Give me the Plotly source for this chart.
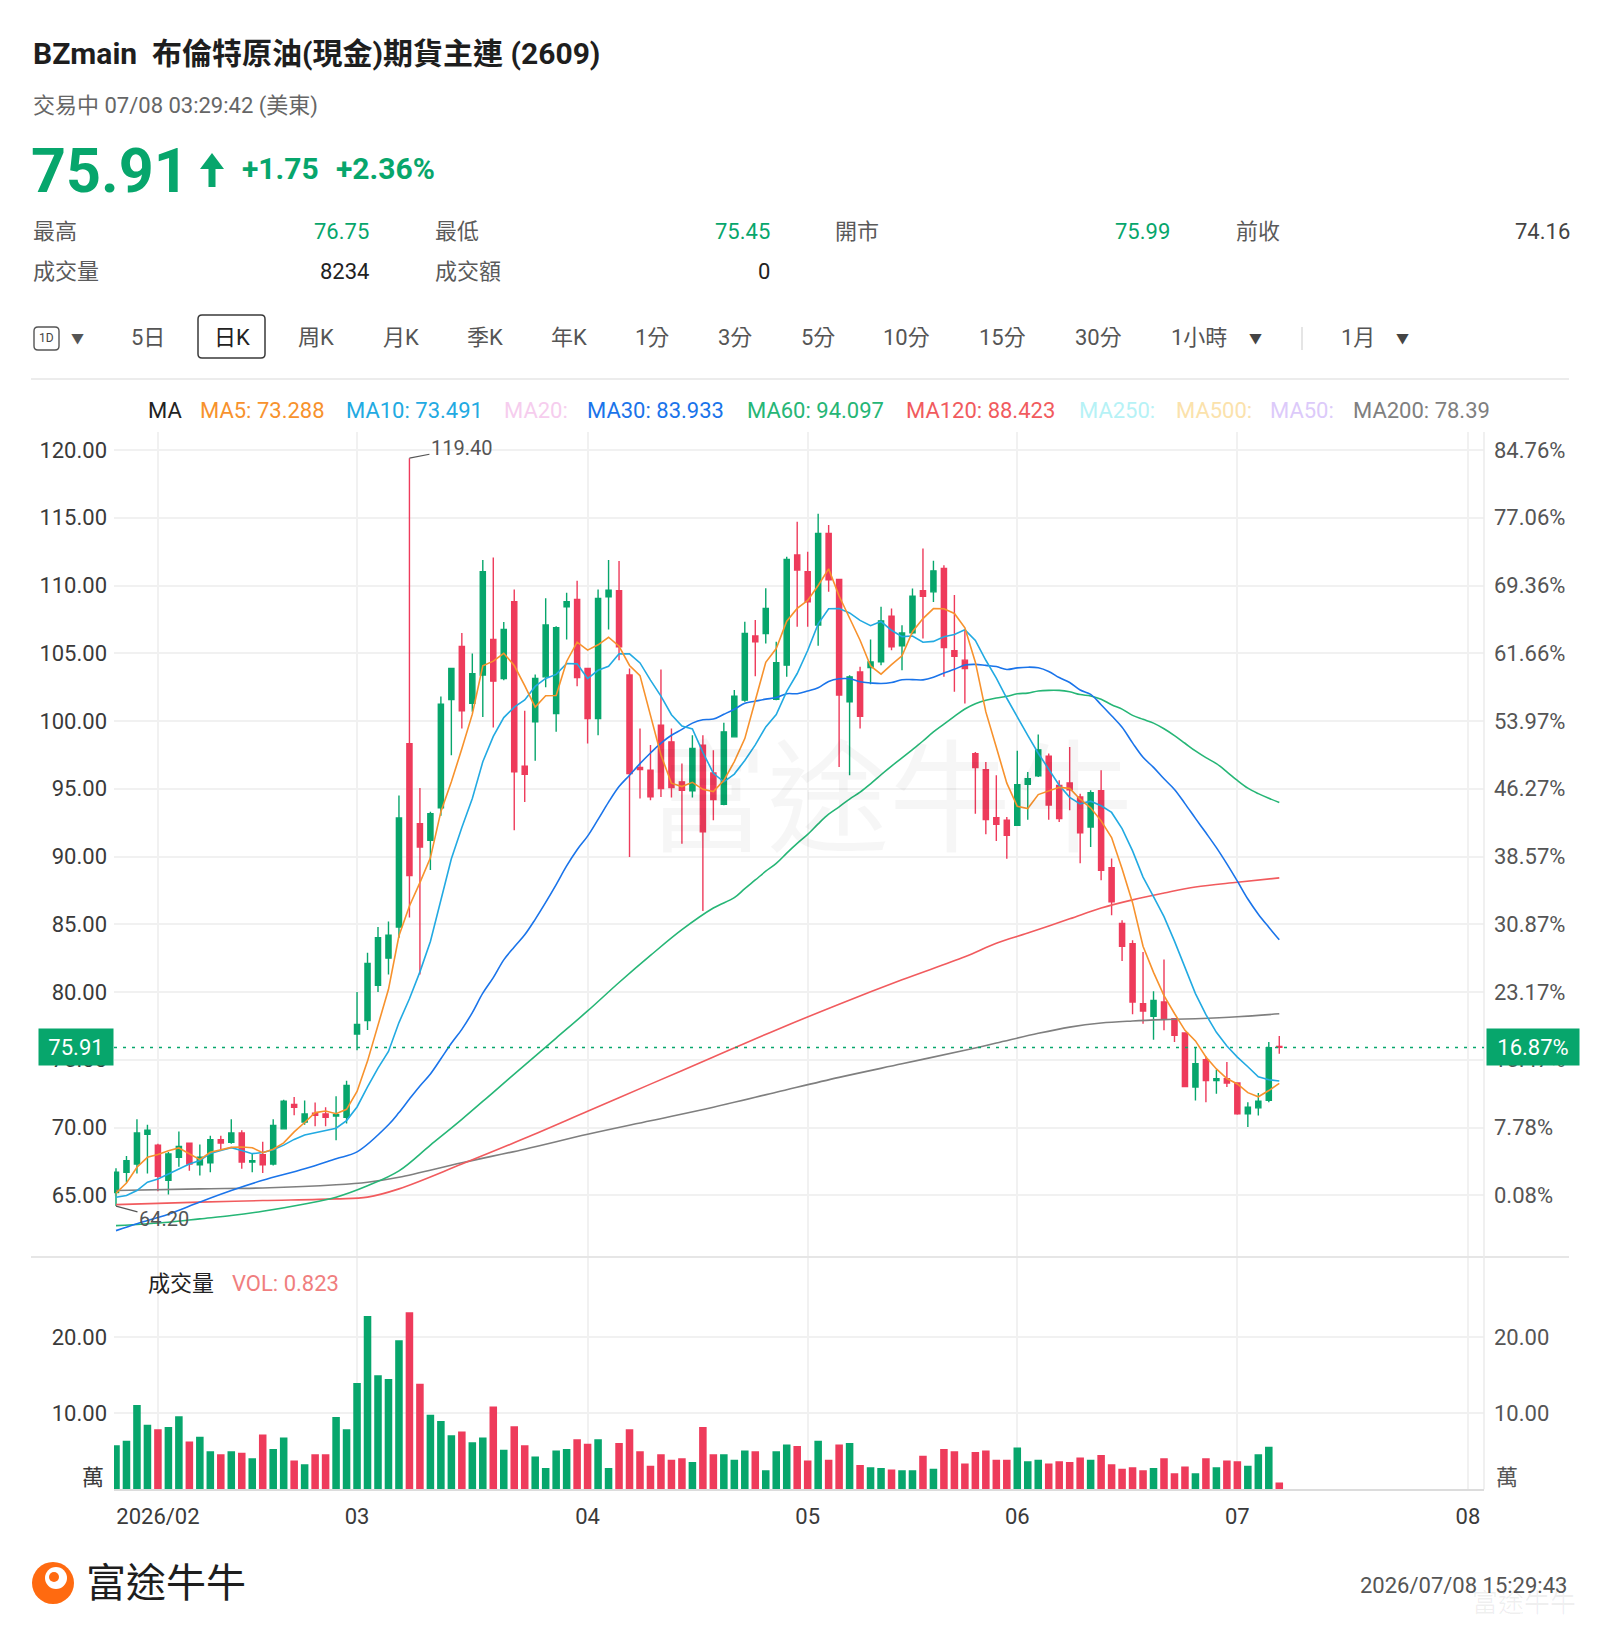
import plotly.graph_objects as go
import pandas as pd

W, H = 1600, 1635
FONT = "Roboto, 'Noto Sans CJK TC', sans-serif"
GREEN = '#07a66c'
RED = '#ee3b5b'

# ---------------- data ----------------
month_idx = [4, 23, 45, 66, 86, 107, 129]
month_lbl = ['2026/02', '03', '04', '05', '06', '07', '08']

price_ticks = [120, 115, 110, 105, 100, 95, 90, 85, 80, 75, 70, 65]
price_tick_text = ['120.00', '115.00', '110.00', '105.00', '100.00', '95.00', '90.00',
                   '85.00', '80.00', '75.00', '70.00', '65.00']
pct_tick_text = ['84.76%', '77.06%', '69.36%', '61.66%', '53.97%', '46.27%', '38.57%',
                 '30.87%', '23.17%', '15.47%', '7.78%', '0.08%']
vol_ticks = [10, 20]
vol_tick_text = ['10.00', '20.00']

opens = [65.2, 66.7, 67.3, 69.5, 68.7, 66.1, 67.8, 68.85, 67.25, 67.4,
         69.1, 68.9, 69.6, 67.45, 68.0, 67.3, 69.9, 71.7, 70.4, 71.05,
         71.0, 70.85, 70.75, 76.9, 77.9, 80.5, 82.5, 84.8, 98.33, 92.42,
         91.2, 93.6, 101.58, 105.5, 101.3, 103.39, 106.02, 103.14, 108.8, 96.66,
         99.94, 103.26, 100.55, 108.43, 108.97, 103.88, 100.18, 109.17, 109.61, 103.39,
         96.57, 96.37, 99.69, 98.46, 95.51, 94.84, 98.22, 96.17, 93.86, 98.83,
         101.54, 106.27, 106.46, 101.61, 104.12, 112.25, 111.02, 107.08, 113.85, 110.45,
         101.41, 103.62, 103.94, 104.36, 107.74, 105.55, 106.5, 109.61, 109.53, 111.26,
         105.18, 104.49, 97.59, 96.41, 92.87, 92.67, 92.3, 95.33, 95.95, 97.4,
         95.25, 95.43, 94.4, 92.18, 94.86, 89.18, 85.05, 83.57, 79.14, 78.2,
         79.26, 78.03, 76.97, 72.98, 75.0, 73.47, 73.6, 73.28, 71.01, 71.45,
         72.0, 75.99]
highs = [67.0, 67.9, 70.6, 70.2, 68.8, 68.2, 69.7, 68.9, 68.75, 69.4,
         69.4, 70.6, 69.8, 68.05, 68.95, 70.6, 72.05, 72.25, 72.0, 71.85,
         71.5, 72.3, 73.45, 80.0, 82.9, 84.8, 85.2, 94.5, 119.4, 95.06,
         93.3, 101.8, 103.9, 106.5, 104.99, 111.88, 112.07, 107.3, 109.71, 100.75,
         103.44, 109.05, 107.0, 109.47, 110.35, 103.9, 109.71, 111.88, 111.8, 103.88,
         99.45, 98.22, 103.8, 99.45, 96.86, 98.95, 98.95, 97.85, 99.87, 102.28,
         107.32, 107.45, 109.79, 105.85, 112.13, 114.71, 112.5, 115.3, 114.46, 110.45,
         103.38, 104.0, 106.01, 108.43, 108.3, 107.07, 109.78, 112.73, 111.82, 111.5,
         109.29, 106.7, 97.72, 96.98, 95.99, 92.92, 97.8, 96.24, 99.0, 97.6,
         95.63, 98.08, 94.64, 94.89, 96.37, 89.85, 85.29, 83.81, 82.95, 80.05,
         82.39, 78.03, 76.97, 75.89, 75.25, 74.26, 74.83, 73.3, 71.87, 72.54,
         76.31, 76.75]
lows = [64.2, 65.95, 66.6, 66.6, 65.3, 65.05, 67.1, 66.8, 66.45, 66.7,
        68.4, 68.8, 66.95, 66.7, 66.65, 67.2, 69.9, 70.9, 70.2, 70.1,
        70.1, 69.05, 70.3, 75.7, 77.2, 80.0, 81.3, 84.0, 85.5, 81.3,
        89.0, 93.0, 97.47, 99.45, 100.68, 100.3, 99.52, 103.0, 91.94, 94.03,
        97.06, 102.5, 99.2, 106.02, 102.57, 98.34, 98.95, 106.76, 104.49, 89.97,
        94.28, 94.15, 94.4, 94.35, 90.95, 94.35, 85.98, 92.68, 93.78, 98.78,
        101.42, 103.31, 105.72, 101.54, 103.26, 106.95, 106.95, 105.55, 109.54, 96.6,
        95.99, 99.44, 102.71, 104.12, 105.22, 103.75, 106.41, 106.09, 108.79, 103.26,
        102.15, 101.29, 93.16, 91.64, 91.14, 89.84, 92.3, 92.72, 95.87, 92.72,
        92.55, 93.41, 89.5, 90.71, 88.25, 85.66, 82.29, 78.35, 77.66, 76.48,
        77.17, 76.31, 72.98, 71.99, 71.87, 72.49, 72.98, 70.95, 70.03, 70.89,
        71.87, 75.45]
closes = [66.7, 67.55, 69.6, 69.8, 66.4, 68.05, 68.6, 67.3, 67.8, 69.1,
          68.85, 69.6, 67.45, 67.55, 67.25, 70.15, 71.95, 71.5, 71.0, 70.9,
          70.75, 70.95, 73.1, 77.6, 82.1, 84.0, 84.2, 92.85, 88.6, 90.7,
          93.16, 101.24, 103.87, 100.75, 103.5, 111.02, 102.94, 106.76, 96.25, 96.07,
          103.14, 107.08, 106.88, 108.8, 103.21, 100.18, 109.05, 109.66, 105.48, 96.12,
          96.42, 94.4, 95.02, 95.09, 94.89, 97.97, 91.82, 94.2, 99.2, 101.83,
          106.46, 105.85, 108.31, 104.3, 111.93, 111.14, 108.8, 113.85, 110.42, 101.91,
          103.26, 100.35, 104.36, 107.39, 105.47, 106.5, 109.21, 109.21, 111.08, 105.42,
          104.78, 103.87, 96.56, 92.72, 92.37, 91.56, 95.3, 95.75, 97.87, 93.8,
          92.8, 94.93, 91.74, 94.7, 88.98, 86.65, 83.37, 79.26, 78.6, 79.38,
          78.03, 76.8, 73.03, 74.71, 73.47, 73.6, 73.28, 71.01, 71.5, 71.95,
          75.89, 75.91]
volumes = [5.8, 6.4, 11.1, 8.5, 7.9, 8.2, 9.6, 6.3, 6.9, 5.0,
           4.6, 5.0, 4.8, 4.1, 7.2, 5.3, 6.8, 3.8, 3.3, 4.6,
           4.6, 9.5, 7.9, 14.0, 22.8, 15.0, 14.5, 19.6, 23.3, 13.9,
           9.8, 9.0, 7.1, 7.6, 6.2, 6.8, 10.9, 5.2, 8.3, 5.8,
           4.3, 2.8, 5.1, 5.3, 6.6, 6.0, 6.6, 2.8, 6.1, 7.9,
           5.0, 3.1, 4.6, 3.9, 4.1, 3.6, 8.2, 4.6, 4.6, 3.9,
           5.1, 5.0, 2.5, 5.0, 5.9, 5.7, 3.8, 6.4, 3.9, 5.9,
           6.1, 3.2, 2.9, 2.8, 2.6, 2.5, 2.5, 4.4, 2.7, 5.3,
           5.0, 3.4, 4.9, 5.1, 3.9, 3.9, 5.5, 3.7, 3.9, 3.4,
           3.7, 3.6, 4.2, 3.9, 4.5, 3.3, 2.7, 2.9, 2.5, 2.8,
           4.1, 2.1, 3.0, 2.1, 4.1, 2.9, 3.8, 3.7, 3.1, 4.6,
           5.6, 0.9]

ma5_head = [65.15, 65.9, 67.07, 67.8]
ma10_head = [64.85, 64.98, 65.35, 65.96, 66.2, 66.58, 66.95, 67.3, 67.56]
ma30_idx = [0, 2, 5, 8, 11, 14, 18, 21, 23, 26, 27, 28]
ma30_val = [62.39, 62.9, 63.6, 64.5, 65.35, 66.1, 66.95, 67.7, 68.2, 70.2, 71.1, 72.1]
ma60_idx = [0, 5, 8, 11, 14, 18, 21, 24, 27, 30, 33, 36, 39, 42, 45, 48, 51, 54, 57]
ma60_val = [62.76, 63.01, 63.26, 63.5, 63.82, 64.36, 64.86, 65.7, 66.8, 68.7, 70.6, 72.6,
            74.6, 76.6, 78.6, 80.7, 82.7, 84.6, 86.2]
ma120_idx = [0, 8, 14, 21, 24, 27, 33, 39, 45, 51, 57, 63, 69, 75, 81, 84, 87, 91, 94, 97,
             100, 103, 107, 111]
ma120_val = [64.31, 64.49, 64.61, 64.73, 64.86, 65.47, 67.3, 69.2, 71.2, 73.2, 75.2, 77.2,
             79.1, 80.9, 82.6, 83.6, 84.35, 85.4, 86.2, 86.8, 87.3, 87.75, 88.1, 88.42]
ma200_idx = [0, 8, 14, 21, 24, 27, 33, 39, 45, 51, 57, 63, 69, 75, 81, 84, 88, 91, 94, 97,
             100, 103, 107, 111]
ma200_val = [65.35, 65.47, 65.54, 65.77, 65.96, 66.33, 67.4, 68.4, 69.5, 70.5, 71.5, 72.6,
             73.7, 74.7, 75.7, 76.23, 76.95, 77.41, 77.71, 77.86, 77.96, 78.03, 78.17, 78.39]

last_price = 75.91

# ---------------- helpers ----------------
def px(x):
    return x / W


def py(y):
    return 1 - y / H


annotations = []
shapes = []


def text(x, y, s, size=22, color='#333', xanchor='left', bold=False, family=FONT):
    annotations.append(dict(x=px(x), y=py(y), xref='paper', yref='paper',
                            text=('<b>%s</b>' % s) if bold else s, showarrow=False,
                            xanchor=xanchor, yanchor='middle',
                            font=dict(size=size, color=color, family=family)))


def rrect(x0, y0, x1, y1, r):
    P = lambda x, y: '%f,%f' % (px(x), py(y))
    return ('M %s L %s Q %s %s L %s Q %s %s L %s Q %s %s L %s Q %s %s Z' % (
        P(x0 + r, y0), P(x1 - r, y0), P(x1, y0), P(x1, y0 + r), P(x1, y1 - r), P(x1, y1),
        P(x1 - r, y1), P(x0 + r, y1), P(x0, y1), P(x0, y1 - r), P(x0, y0 + r), P(x0, y0),
        P(x0 + r, y0)))


def hline(x0, x1, y, color, width):
    shapes.append(dict(type='line', xref='paper', yref='paper', x0=px(x0), x1=px(x1),
                       y0=py(y), y1=py(y), line=dict(color=color, width=width)))


def vline(x, y0, y1, color, width):
    shapes.append(dict(type='line', xref='paper', yref='paper', x0=px(x), x1=px(x),
                       y0=py(y0), y1=py(y1), line=dict(color=color, width=width)))


# ---------------- derived series ----------------
n = len(closes)
xs = list(range(n))
c = pd.Series(closes)
ma5 = ma5_head + list(c.rolling(5).mean()[len(ma5_head):])
ma10 = ma10_head + list(c.rolling(10).mean()[len(ma10_head):])
r30 = c.rolling(30).mean()
ma30_x = ma30_idx + list(range(29, n))
ma30_y = ma30_val + list(r30[29:])
r60 = c.rolling(60).mean()
ma60_x = ma60_idx + list(range(59, n))
ma60_y = ma60_val + list(r60[59:])
vol_colors = [GREEN if cl >= op else RED for op, cl in zip(opens, closes)]

# ---------------- figure ----------------
fig = go.Figure()
fig.add_trace(go.Candlestick(
    x=xs, open=opens, high=highs, low=lows, close=closes,
    increasing=dict(line=dict(color=GREEN, width=1.4), fillcolor=GREEN),
    decreasing=dict(line=dict(color=RED, width=1.4), fillcolor=RED),
    whiskerwidth=0, xaxis='x', yaxis='y', showlegend=False, hoverinfo='skip'))

ma_styles = [
    (ma200_idx, ma200_val, '#7f7f7f', 'spline'),
    (ma120_idx, ma120_val, '#f15b5e', 'spline'),
    (ma60_x, ma60_y, '#26b676', 'spline'),
    (ma30_x, ma30_y, '#1a74ea', 'spline'),
    (xs, ma10, '#22aae2', 'linear'),
    (xs, ma5, '#f7922d', 'linear'),
]
for mx, my, col, shp in ma_styles:
    fig.add_trace(go.Scatter(x=mx, y=my, mode='lines', line=dict(color=col, width=1.6, shape=shp),
                             xaxis='x', yaxis='y', showlegend=False, hoverinfo='skip'))

fig.add_trace(go.Scatter(x=[0], y=[last_price], mode='markers', marker=dict(opacity=0),
                         xaxis='x', yaxis='y3', showlegend=False, hoverinfo='skip'))

fig.add_trace(go.Bar(x=xs, y=volumes, marker=dict(color=vol_colors, line=dict(width=0)),
                     width=0.72, xaxis='x2', yaxis='y2', showlegend=False, hoverinfo='skip'))
fig.add_trace(go.Scatter(x=[0], y=[0], mode='markers', marker=dict(opacity=0),
                         xaxis='x2', yaxis='y4', showlegend=False, hoverinfo='skip'))

# geometry
PL, PR = 114, 1484
MAIN_T, MAIN_B = 432, 1257
VOL_B = 1489.3
xr = [(PL - 116) / 10.48, (PR - 116) / 10.48]
p_top = 120 + (450 - MAIN_T) / 13.55
p_bot = 120 - (MAIN_B - 450) / 13.55
v_top = (VOL_B - MAIN_B) / 7.6

GRID = '#f1f1f1'
tickfont = dict(size=22, color='#3a3a3a', family=FONT)
rtickfont = dict(size=22, color='#555555', family=FONT)

fig.update_layout(
    width=W, height=H, margin=dict(l=0, r=0, t=0, b=0),
    paper_bgcolor='white', plot_bgcolor='white', showlegend=False, hovermode=False,
    font=dict(family=FONT),
    xaxis=dict(domain=[px(PL), px(PR)], anchor='y', range=xr, tickmode='array',
               tickvals=month_idx, showticklabels=False, showgrid=True, gridcolor=GRID,
               gridwidth=1.5, zeroline=False, showline=False, ticks='',
               rangeslider=dict(visible=False), matches='x2'),
    xaxis2=dict(domain=[px(PL), px(PR)], anchor='y2', range=xr, tickmode='array',
                tickvals=month_idx, ticktext=month_lbl, showgrid=True, gridcolor=GRID,
                gridwidth=1.5, zeroline=False, showline=False, ticks='',
                tickfont=tickfont, ticklabelstandoff=12),
    yaxis=dict(domain=[py(MAIN_B), py(MAIN_T)], anchor='x', range=[p_bot, p_top],
               tickmode='array', tickvals=price_ticks, ticktext=price_tick_text,
               showgrid=True, gridcolor=GRID, gridwidth=1.5, zeroline=False, ticks='',
               tickfont=tickfont, ticklabelstandoff=6),
    yaxis3=dict(overlaying='y', side='right', anchor='x', range=[p_bot, p_top],
                tickmode='array', tickvals=price_ticks, ticktext=pct_tick_text,
                showgrid=False, zeroline=False, ticks='', tickfont=rtickfont,
                ticklabelstandoff=9),
    yaxis2=dict(domain=[py(VOL_B), py(MAIN_B)], anchor='x2', range=[0, v_top],
                tickmode='array', tickvals=vol_ticks, ticktext=vol_tick_text,
                showgrid=True, gridcolor=GRID, gridwidth=1.5, zeroline=False, ticks='',
                tickfont=tickfont, ticklabelstandoff=6),
    yaxis4=dict(overlaying='y2', side='right', anchor='x2', range=[0, v_top],
                tickmode='array', tickvals=vol_ticks, ticktext=vol_tick_text,
                showgrid=False, zeroline=False, ticks='', tickfont=rtickfont,
                ticklabelstandoff=9),
)

# ---------------- header ----------------
text(31, 53, 'BZmain  布倫特原油(現金)期貨主連 (2609)', size=30, color='#1e1e1e', bold=True)
text(31, 106, '交易中 07/08 03:29:42 (美東)', size=22, color='#666666')
text(29, 171, '75.91', size=61, color=GREEN, bold=True)
# up arrow
arrow = 'M %f,%f L %f,%f L %f,%f L %f,%f L %f,%f L %f,%f L %f,%f Z' % (
    px(212), py(153), px(224), py(169), px(215.5), py(169), px(215.5), py(187),
    px(208.5), py(187), px(208.5), py(169), px(200), py(169))
shapes.append(dict(type='path', xref='paper', yref='paper', path=arrow,
                   fillcolor=GREEN, line=dict(width=0)))
text(240, 168, '+1.75', size=30, color=GREEN, bold=True)
text(334, 168, '+2.36%', size=30, color=GREEN, bold=True)

row1, row2 = 232, 271
LBL = '#5a5a5a'
text(31, row1, '最高', color=LBL)
text(371, row1, '76.75', color=GREEN, xanchor='right')
text(433, row1, '最低', color=LBL)
text(772, row1, '75.45', color=GREEN, xanchor='right')
text(833, row1, '開市', color=LBL)
text(1172, row1, '75.99', color=GREEN, xanchor='right')
text(1234, row1, '前收', color=LBL)
text(1572, row1, '74.16', color='#444444', xanchor='right')
text(31, row2, '成交量', color=LBL)
text(371, row2, '8234', color='#222222', xanchor='right')
text(433, row2, '成交額', color=LBL)
text(772, row2, '0', color='#222222', xanchor='right')

# ---------------- toolbar ----------------
TB = 338
shapes.append(dict(type='path', xref='paper', yref='paper', path=rrect(34, 327, 59, 350, 4),
                   line=dict(color='#555555', width=1.4)))
text(46.5, 338.5, '1D', size=12, color='#444444', xanchor='center')
text(77, 339, '▼', size=13, color='#555555', xanchor='center')
shapes.append(dict(type='path', xref='paper', yref='paper', path=rrect(198, 315, 265, 358, 4),
                   line=dict(color='#3a3a3a', width=1.5)))
tb_items = [(148, '5日'), (232, '日K'), (316, '周K'), (401, '月K'), (485, '季K'),
            (569, '年K'), (652, '1分'), (735, '3分'), (818, '5分'), (906, '10分'),
            (1002, '15分'), (1098, '30分'), (1199, '1小時'), (1358, '1月')]
for x, s in tb_items:
    text(x, TB, s, size=22, color='#222222' if s == '日K' else '#555555', xanchor='center')
text(1255, 339, '▼', size=13, color='#444444', xanchor='center')
text(1402, 339, '▼', size=13, color='#444444', xanchor='center')
vline(1302, 327, 350, '#dddddd', 1.5)
hline(31, 1569, 379, '#e6e6e6', 1.5)

# ---------------- MA legend ----------------
LEG = 411
legend_items = [(146, 'MA', '#222222'), (198, 'MA5: 73.288', '#f7922d'),
                (344, 'MA10: 73.491', '#22aae2'), (502, 'MA20:', '#f6cdee'),
                (585, 'MA30: 83.933', '#1a74ea'), (745, 'MA60: 94.097', '#26b676'),
                (904, 'MA120: 88.423', '#f15b5e'), (1077, 'MA250:', '#b6f2f6'),
                (1174, 'MA500:', '#fbe2ac'), (1268, 'MA50:', '#dccafa'),
                (1351, 'MA200: 78.39', '#7f7f7f')]
for x, s, col in legend_items:
    text(x, LEG, s, size=22, color=col)

# ---------------- chart decorations ----------------
hline(31, 1569, MAIN_B, '#e6e6e6', 2)
vline(PR, MAIN_T, VOL_B, '#ebebeb', 1.5)
hline(PL, PR, VOL_B + 0.7, '#dcdcdc', 2)

# last price dashed line
shapes.append(dict(type='line', xref='paper', yref='y', x0=px(PL), x1=px(PR),
                   y0=last_price, y1=last_price,
                   line=dict(color=GREEN, width=1.5, dash='3px,6px')))
annotations.append(dict(x=px(PL), y=last_price, xref='paper', yref='y', text='75.91',
                        showarrow=False, xanchor='right', yanchor='middle', bgcolor=GREEN,
                        width=68, height=30, borderpad=3,
                        font=dict(size=22, color='white', family=FONT)))
annotations.append(dict(x=px(PR + 2), y=last_price, xref='paper', yref='y', text='16.87%',
                        showarrow=False, xanchor='left', yanchor='middle', bgcolor=GREEN,
                        width=86, height=30, borderpad=3,
                        font=dict(size=22, color='white', family=FONT)))

# high / low markers
annotations.append(dict(x=28, y=119.4, xref='x', yref='y', text='119.40', showarrow=True,
                        arrowhead=0, arrowwidth=1.2, arrowcolor='#555555', ax=52, ay=-10,
                        font=dict(size=20, color='#555555', family=FONT)))
annotations.append(dict(x=0, y=64.2, xref='x', yref='y', text='64.20', showarrow=True,
                        arrowhead=0, arrowwidth=1.2, arrowcolor='#555555', ax=48, ay=13,
                        font=dict(size=20, color='#555555', family=FONT)))

# watermark
text(889, 800, '富途牛牛', size=122, color='rgba(0,0,0,0.035)', xanchor='center')

# volume panel labels
text(146, 1283, '成交量', size=22, color='#222222')
text(230, 1283, 'VOL: 0.823', size=22, color='#f07e7e')
text(106, 1477, '萬', size=22, color='#3a3a3a', xanchor='right')
text(1494, 1477, '萬', size=22, color='#555555')

# ---------------- footer ----------------
shapes.append(dict(type='circle', xref='paper', yref='paper', x0=px(32), x1=px(74),
                   y0=py(1562), y1=py(1604), fillcolor='#ff6a10', line=dict(width=0)))
shapes.append(dict(type='circle', xref='paper', yref='paper', x0=px(45), x1=px(67),
                   y0=py(1567), y1=py(1589), fillcolor='white', line=dict(width=0)))
shapes.append(dict(type='circle', xref='paper', yref='paper', x0=px(49), x1=px(59),
                   y0=py(1572), y1=py(1582), fillcolor='#ff6a10', line=dict(width=0)))
text(84, 1583, '富途牛牛', size=40, color='#1e1e1e')
text(1569, 1585, '2026/07/08 15:29:43', size=22, color='#555555', xanchor='right')
text(1578, 1603, '富途牛牛', size=26, color='rgba(0,0,0,0.06)', xanchor='right')

fig.update_layout(annotations=annotations, shapes=shapes)
fig.write_html('out.html')
